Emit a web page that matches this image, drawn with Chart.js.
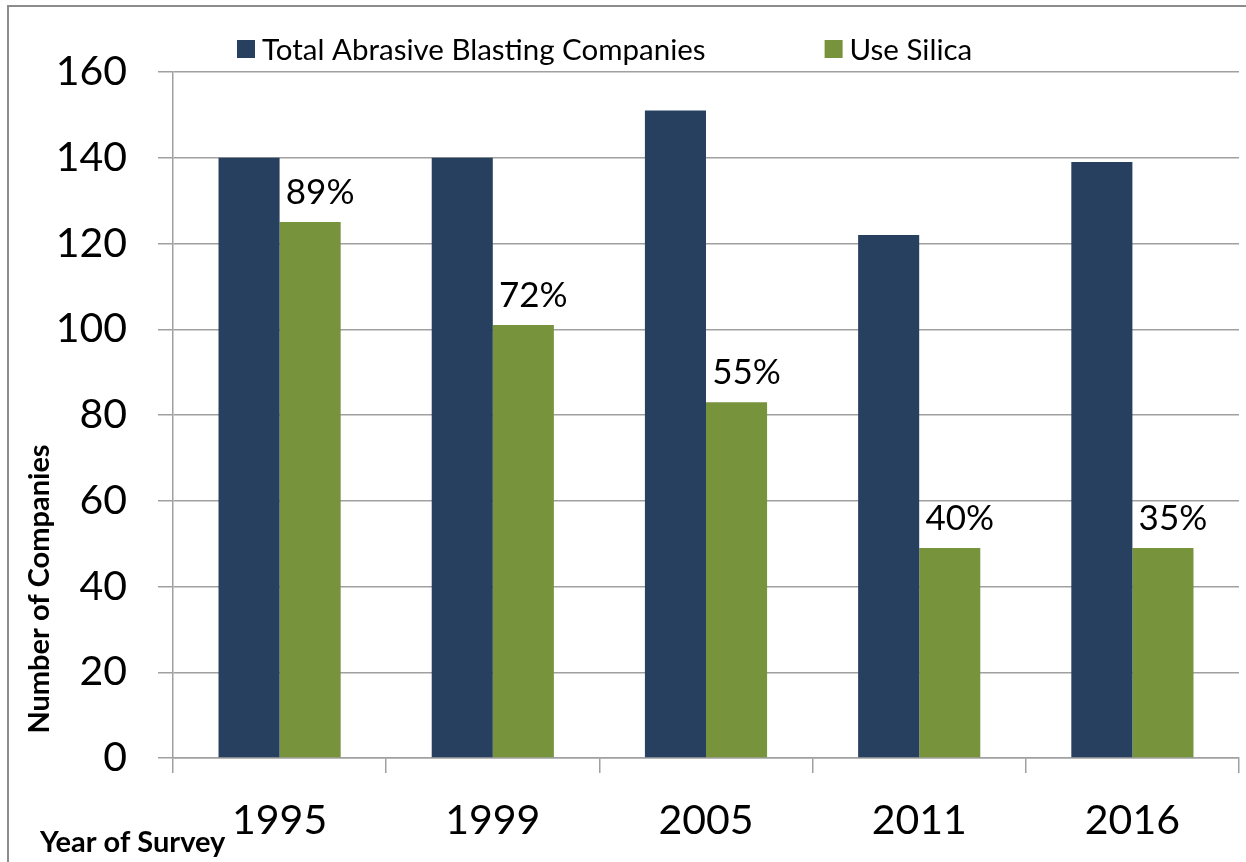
<!DOCTYPE html>
<html>
<head>
<meta charset="utf-8">
<script src="https://cdn.jsdelivr.net/npm/chart.js@4.4.1/dist/chart.umd.min.js"></script>
<style>
    html, body { margin: 0; padding: 0; background: #ffffff; }
    #contenedor { width: 1246px; height: 862px; position: relative; }
</style>
</head>
<body>
<div id="contenedor"><canvas id="grafica"></canvas></div>
<script>
// data
const years = ['1995', '1999', '2005', '2011', '2016'];
const totalCompanies = [140, 140, 151, 122, 139];
const useSilica = [125, 101, 83, 49, 49];
const silicaPct = ['89%', '72%', '55%', '40%', '35%'];
const seriesNames = ['Total Abrasive Blasting Companies', 'Use Silica'];

const navy = '#27405f';
const green = '#77933c';
const gridGrey = '#a0a0a0';
const fuente = 'Lato';

// legend, axis titles, outer frame and % labels
const extras = {
    id: 'extras',
    afterDatasetsDraw(chart) {
        const ctx = chart.ctx;
        ctx.save();
        ctx.fillStyle = '#000';
        ctx.font = '35px ' + fuente;
        ctx.textAlign = 'center';
        ctx.textBaseline = 'middle';
        chart.getDatasetMeta(1).data.forEach(function (bar, i) {
            ctx.fillText(silicaPct[i], bar.x + 10, bar.y - 29);
        });
        ctx.restore();
    },
    afterDraw(chart) {
        const ctx = chart.ctx;
        ctx.save();
        // frame
        ctx.strokeStyle = '#8c8c8c';
        ctx.lineWidth = 2;
        ctx.strokeRect(8, 6, 1400, 1000);

        // legend
        ctx.font = '29.5px ' + fuente;
        ctx.textBaseline = 'middle';
        ctx.textAlign = 'left';
        let x = 237;
        chart.data.datasets.forEach(function (ds) {
            ctx.fillStyle = ds.backgroundColor;
            ctx.fillRect(x, 40, 18, 18);
            ctx.fillStyle = '#000';
            ctx.fillText(ds.label, x + 25, 50);
            x += 25 + ctx.measureText(ds.label).width + 119;
        });

        // axis titles
        ctx.font = 'bold 29px ' + fuente;
        ctx.fillText('Year of Survey', 40, 843);
        ctx.translate(40, 589);
        ctx.rotate(-Math.PI / 2);
        ctx.textAlign = 'center';
        ctx.fillText('Number of Companies', 0, 0);
        ctx.restore();
    }
};

let datos = {
    labels: years,
    datasets: [
        {
            label: seriesNames[0],
            data: totalCompanies,
            backgroundColor: navy,
            barPercentage: 1,
            categoryPercentage: 0.573
        },
        {
            label: seriesNames[1],
            data: useSilica,
            backgroundColor: green,
            barPercentage: 1,
            categoryPercentage: 0.573
        }
    ]
};

let opciones = {
    responsive: true,
    maintainAspectRatio: false,
    animation: false,
    layout: { padding: { top: 72, right: 7, left: 0, bottom: 0 } },
    plugins: {
        legend: { display: false },
        tooltip: { enabled: false }
    },
    scales: {
        x: {
            grid: { offset: true, drawOnChartArea: false, color: gridGrey, lineWidth: 1.5, tickLength: 15 },
            border: { color: gridGrey, width: 1.5 },
            ticks: { color: '#000', padding: 23, font: { family: fuente, size: 41 } },
            afterFit: function (scale) { scale.height = 104; }
        },
        y: {
            min: 0,
            max: 160,
            ticks: { stepSize: 20, color: '#000', padding: 31, font: { family: fuente, size: 41 } },
            grid: { color: gridGrey, lineWidth: 1.5, tickLength: 15 },
            border: { color: gridGrey, width: 1.5 },
            afterFit: function (scale) { scale.width = 173; }
        }
    }
};

let miGrafica = new Chart(document.getElementById('grafica'), {
    type: 'bar',
    data: datos,
    options: opciones,
    plugins: [extras]
});
</script>
</body>
</html>
